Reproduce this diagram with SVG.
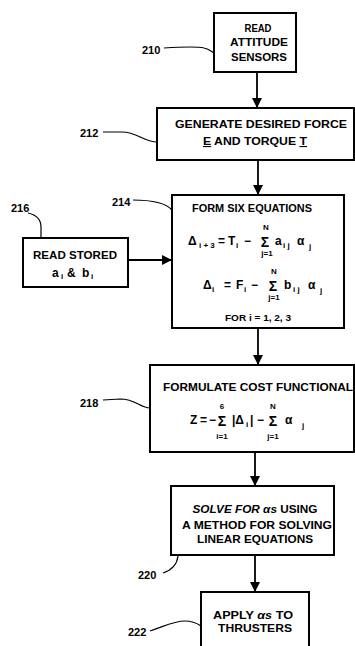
<svg xmlns="http://www.w3.org/2000/svg" width="355" height="646" viewBox="0 0 355 646">
<defs>
<style>
.box{fill:#fff;stroke:#000;stroke-width:2}
.t{font-family:"Liberation Sans",Arial,sans-serif;font-weight:bold;font-size:11px;fill:#000;text-anchor:middle}
.m{font-family:"Liberation Sans",Arial,sans-serif;font-weight:bold;font-size:12px;fill:#000}
.s{font-family:"Liberation Sans",Arial,sans-serif;font-weight:bold;font-size:8px;fill:#000}
.sm{font-family:"Liberation Sans",Arial,sans-serif;font-weight:bold;font-size:8px;fill:#000;text-anchor:middle}
.sig{font-family:"Liberation Sans",Arial,sans-serif;font-weight:bold;font-size:14px;fill:#000;text-anchor:middle}
.lbl{font-family:"Liberation Sans",Arial,sans-serif;font-weight:bold;font-size:11px;fill:#000}
.lead{fill:none;stroke:#000;stroke-width:1.2}
.conn{fill:none;stroke:#000;stroke-width:1.8}
</style>
<marker id="ah" markerUnits="userSpaceOnUse" markerWidth="10" markerHeight="10" refX="10" refY="5" orient="auto">
<path d="M0,0 L10,5 L0,10 Z" fill="#000"/>
</marker>
</defs>
<rect width="355" height="646" fill="#fff"/>

<g id="connectors">
<path class="conn" d="M257,72 L257,108" marker-end="url(#ah)"/>
<path class="conn" d="M258,160 L258,195" marker-end="url(#ah)"/>
<path class="conn" d="M128,260 L172,260" marker-end="url(#ah)"/>
<path class="conn" d="M258,328 L258,365" marker-end="url(#ah)"/>
<path class="conn" d="M255,452 L255,486" marker-end="url(#ah)"/>
<path class="conn" d="M255,555 L255,592" marker-end="url(#ah)"/>
</g>

<g id="n210">
<rect class="box" x="214" y="13" width="82" height="59"/>
<text class="t" x="258" y="32" textLength="27" lengthAdjust="spacingAndGlyphs">READ</text>
<text class="t" x="259" y="46" textLength="58" lengthAdjust="spacingAndGlyphs">ATTITUDE</text>
<text class="t" x="259" y="61" textLength="56" lengthAdjust="spacingAndGlyphs">SENSORS</text>
<text class="lbl" x="142" y="54">210</text>
<path class="lead" d="M164,48 C180,47 196,46 204,48 C209,49 212,52 214,53"/>
</g>

<g id="n212">
<rect class="box" x="157" y="108" width="197" height="52"/>
<text class="t" x="261" y="128" textLength="172" lengthAdjust="spacingAndGlyphs">GENERATE DESIRED FORCE</text>
<text class="t" x="255" y="145" textLength="104" lengthAdjust="spacingAndGlyphs"><tspan text-decoration="underline">E</tspan> AND TORQUE <tspan text-decoration="underline">T</tspan></text>
<text class="lbl" x="80" y="137">212</text>
<path class="lead" d="M103,132 L122,132 C137,132 144,142 157,142"/>
</g>

<g id="n216">
<rect class="box" x="23" y="238" width="105" height="49"/>
<text class="t" x="75" y="259" textLength="84" lengthAdjust="spacingAndGlyphs">READ STORED</text>
<text class="m" x="52" y="277">a</text>
<text class="s" x="61" y="279">i</text>
<text class="m" x="67" y="277">&amp;</text>
<text class="m" x="82" y="277">b</text>
<text class="s" x="91" y="279">i</text>
<text class="lbl" x="11" y="212">216</text>
<path class="lead" d="M28,213 C37,215 41,220 41,227 L41,238"/>
</g>

<g id="n214">
<rect class="box" x="172" y="195" width="172" height="133"/>
<text class="t" x="252" y="212" textLength="120" lengthAdjust="spacingAndGlyphs">FORM SIX EQUATIONS</text>
<text class="m" x="188" y="245">Δ</text>
<text class="s" x="199" y="248">i + 3</text>
<text class="m" x="218" y="245">=</text>
<text class="m" x="228" y="245">T</text>
<text class="s" x="236" y="248">i</text>
<text class="m" x="244" y="245">−</text>
<text class="sig" x="265" y="247">Σ</text>
<text class="sm" x="266" y="230">N</text>
<text class="sm" x="267" y="256">j=1</text>
<text class="m" x="275" y="245">a</text>
<text class="s" x="283" y="248">i j</text>
<text class="m" x="297" y="245">α</text>
<text class="s" x="309" y="249">j</text>

<text class="m" x="203" y="289">Δ</text>
<text class="s" x="212" y="292">i</text>
<text class="m" x="224" y="289">=</text>
<text class="m" x="236" y="289">F</text>
<text class="s" x="244" y="292">i</text>
<text class="m" x="251" y="289">−</text>
<text class="sig" x="273" y="291">Σ</text>
<text class="sm" x="274" y="274">N</text>
<text class="sm" x="274" y="300">j=1</text>
<text class="m" x="284" y="289">b</text>
<text class="s" x="293" y="292">i j</text>
<text class="m" x="308" y="289">α</text>
<text class="s" x="320" y="293">j</text>

<text class="t" x="258" y="321" style="font-size:9px" textLength="66" lengthAdjust="spacingAndGlyphs">FOR i = 1, 2, 3</text>
<text class="lbl" x="112" y="206">214</text>
<path class="lead" d="M133,200 C150,200 165,202 172,210"/>
</g>

<g id="n218">
<rect class="box" x="150" y="365" width="204" height="87"/>
<text class="t" x="258" y="391" textLength="190" lengthAdjust="spacingAndGlyphs">FORMULATE COST FUNCTIONAL</text>
<text class="m" x="190" y="424">Z</text>
<text class="m" x="200" y="424">=</text>
<text class="m" x="209" y="424">−</text>
<text class="sig" x="222" y="426">Σ</text>
<text class="sm" x="222" y="409">6</text>
<text class="sm" x="222" y="439">i=1</text>
<text class="m" x="232" y="424">|Δ</text>
<text class="s" x="246" y="427">i</text>
<text class="m" x="250" y="424">|</text>
<text class="m" x="257" y="424">−</text>
<text class="sig" x="273" y="426">Σ</text>
<text class="sm" x="273" y="409">N</text>
<text class="sm" x="273" y="439">j=1</text>
<text class="m" x="285" y="424">α</text>
<text class="s" x="302" y="428">j</text>
<text class="lbl" x="80" y="407">218</text>
<path class="lead" d="M103,400 L120,399 C136,399 140,408 150,408"/>
</g>

<g id="n220">
<rect class="box" x="171" y="486" width="163" height="69"/>
<text class="t" x="255" y="513" textLength="125" lengthAdjust="spacingAndGlyphs"><tspan font-style="italic">SOLVE FOR αs</tspan> USING</text>
<text class="t" x="257" y="529" textLength="150" lengthAdjust="spacingAndGlyphs">A METHOD FOR SOLVING</text>
<text class="t" x="255" y="543" textLength="116" lengthAdjust="spacingAndGlyphs">LINEAR EQUATIONS</text>
<text class="lbl" x="138" y="579">220</text>
<path class="lead" d="M163,573 C172,570 177,565 178,556"/>
</g>

<g id="n222">
<rect class="box" x="201" y="592" width="108" height="60"/>
<text class="t" x="253" y="619" textLength="80" lengthAdjust="spacingAndGlyphs">APPLY <tspan font-style="italic">αs</tspan> TO</text>
<text class="t" x="255" y="632" textLength="74" lengthAdjust="spacingAndGlyphs">THRUSTERS</text>
<text class="lbl" x="128" y="636">222</text>
<path class="lead" d="M150,631 C165,626 174,621 185,621 C194,621 198,624 201,626"/>
</g>
</svg>
